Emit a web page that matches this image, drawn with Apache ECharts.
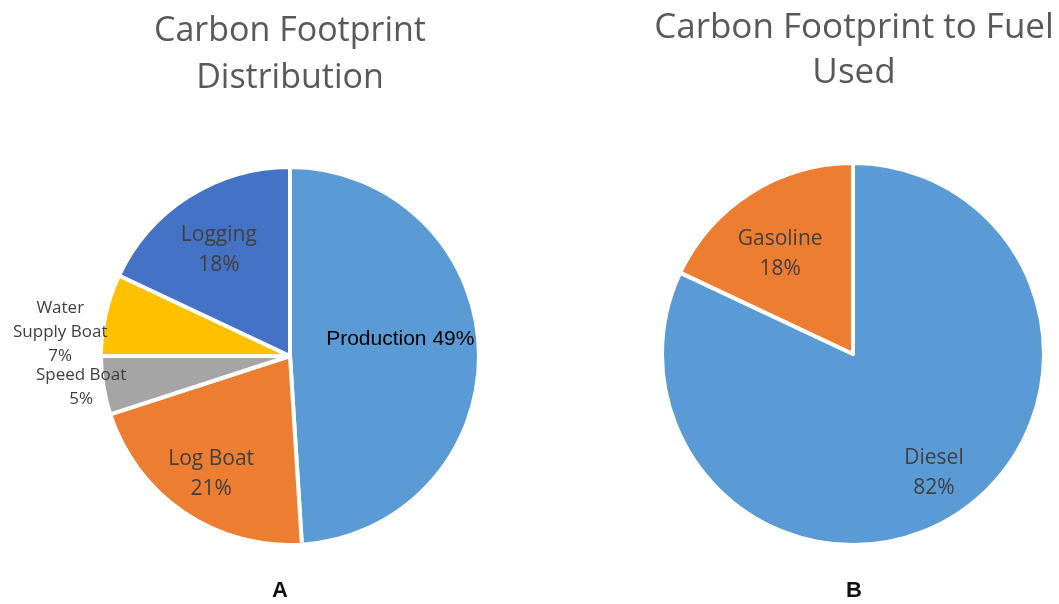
<!DOCTYPE html>
<html>
<head>
<meta charset="utf-8">
<script src="https://cdn.jsdelivr.net/npm/echarts@6/dist/echarts.min.js"></script>
<style>
  html, body { margin: 0; padding: 0; background: #ffffff; }
  #chart { width: 1059px; height: 604px; }
</style>
</head>
<body>
<div id="chart"></div>
<script>
// Panel A: carbon footprint split by activity (percent)
const sourceNames = ['Production', 'Log Boat', 'Speed Boat', 'Water Supply Boat', 'Logging'];
const sourceShares = [49, 21, 5, 7, 18];

// Panel B: carbon footprint split by fuel (percent)
const fuelNames = ['Diesel', 'Gasoline'];
const fuelShares = [82, 18];

const sourceColors = ['#5B9BD5', '#ED7D31', '#A5A5A5', '#FFC000', '#4472C4'];
const fuelColors = ['#5B9BD5', '#ED7D31'];

const TEXT_FONT = '"Open Sans", "Noto Sans", sans-serif';
const ARIAL_FONT = '"Liberation Sans", Arial, sans-serif';

// pie geometry (pixels)
const pieA = { cx: 290, cy: 356, r: 189 };
const pieB = { cx: 853, cy: 354, r: 191 };

// label placement: radius fraction for inside labels, nudges for the rest
const labelSpotA = [
  { frac: 0.59, dy: -13 },
  { frac: 0.75, dy: 2 },
  { outside: true, dx: 21, dy: 2 },
  { outside: true, dx: 0, dy: 17 },
  { frac: 0.69, dx: -2, dy: 3 }
];
const labelSpotB = [{ frac: 0.76, dx: 4, dy: -2 }, { frac: 0.68, dx: -4, dy: 9 }];

function placeLabels(pie, values, spots) {
  const total = values.reduce((a, b) => a + b, 0);
  return function (p) {
    const i = p.dataIndex;
    let acc = 0;
    for (let k = 0; k < i; k++) acc += values[k];
    const mid = (acc + values[i] / 2) / total * Math.PI * 2;
    const s = Math.sin(mid), c = Math.cos(mid);
    const spot = spots[i] || {};
    const rVis = pie.r - 2;
    if (spot.outside) {
      const ax = pie.cx + rVis * s;
      const ay = pie.cy - rVis * c;
      return {
        x: ax - p.labelRect.width / 2 + (spot.dx || 0),
        y: ay + (spot.dy || 0),
        align: 'center',
        verticalAlign: 'middle'
      };
    }
    const d = rVis * (spot.frac || 0.7);
    return {
      x: pie.cx + d * s + (spot.dx || 0),
      y: pie.cy - d * c + (spot.dy || 0),
      align: 'center',
      verticalAlign: 'middle'
    };
  };
}

const insideLabel = {
  show: true,
  position: 'inside',
  formatter: '{b}\n{c}%',
  color: '#404040',
  fontFamily: TEXT_FONT,
  fontSize: 21,
  lineHeight: 30
};

const dataA = sourceNames.map((name, i) => {
  const item = { name: name, value: sourceShares[i], itemStyle: { color: sourceColors[i] } };
  if (name === 'Production') {
    item.label = {
      formatter: '{b} {c}%',
      color: '#000000',
      fontFamily: ARIAL_FONT,
      fontSize: 21,
      lineHeight: 26
    };
  } else if (labelSpotA[i].outside) {
    item.label = {
      // long outside names wrap after the first word
      formatter: (p) => p.name.split(' ').length > 2
        ? p.name.replace(' ', '\n') + '\n' + p.value + '%'
        : p.name + '\n' + p.value + '%',
      fontSize: 17,
      lineHeight: 24
    };
  }
  return item;
});

const dataB = fuelNames.map((name, i) => ({
  name: name, value: fuelShares[i], itemStyle: { color: fuelColors[i] }
}));

const pieBase = {
  type: 'pie',
  startAngle: 90,
  clockwise: true,
  avoidLabelOverlap: false,
  animation: false,
  silent: true,
  itemStyle: { borderColor: '#ffffff', borderWidth: 4 },
  labelLine: { show: false },
  emphasis: { disabled: true }
};

const chart = echarts.init(document.getElementById('chart'), null, { renderer: 'canvas' });

chart.setOption({
  backgroundColor: '#ffffff',
  graphic: [
    {
      type: 'text', x: 290, y: 8,
      style: {
        text: 'Carbon Footprint\nDistribution',
        align: 'center', verticalAlign: 'top',
        fill: '#595959', fontFamily: TEXT_FONT, fontSize: 34, lineHeight: 47
      }
    },
    {
      type: 'text', x: 854, y: 6,
      style: {
        text: 'Carbon Footprint to Fuel\nUsed',
        align: 'center', verticalAlign: 'top',
        fill: '#595959', fontFamily: TEXT_FONT, fontSize: 35, lineHeight: 45
      }
    },
    {
      type: 'text', x: 280, y: 591,
      style: {
        text: 'A', align: 'center', verticalAlign: 'middle',
        fill: '#111111', fontFamily: ARIAL_FONT, fontWeight: 'bold', fontSize: 22
      }
    },
    {
      type: 'text', x: 854, y: 591,
      style: {
        text: 'B', align: 'center', verticalAlign: 'middle',
        fill: '#111111', fontFamily: ARIAL_FONT, fontWeight: 'bold', fontSize: 22
      }
    }
  ],
  series: [
    Object.assign({}, pieBase, {
      name: 'Carbon Footprint Distribution',
      center: [pieA.cx, pieA.cy],
      radius: [0, pieA.r],
      label: insideLabel,
      labelLayout: placeLabels(pieA, sourceShares, labelSpotA),
      data: dataA
    }),
    Object.assign({}, pieBase, {
      name: 'Carbon Footprint to Fuel Used',
      center: [pieB.cx, pieB.cy],
      radius: [0, pieB.r],
      label: insideLabel,
      labelLayout: placeLabels(pieB, fuelShares, labelSpotB),
      data: dataB
    })
  ]
});
</script>
</body>
</html>
